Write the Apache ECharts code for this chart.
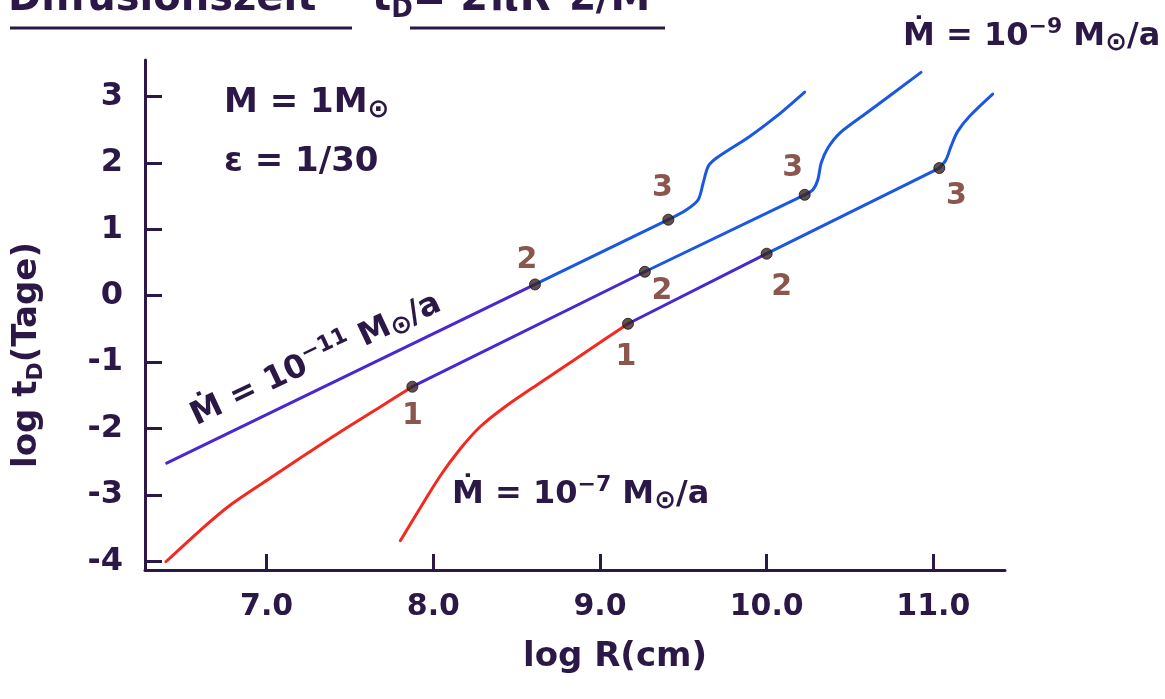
<!DOCTYPE html>
<html>
<head>
<meta charset="utf-8">
<script src="https://cdn.jsdelivr.net/npm/echarts@6/dist/echarts.min.js"></script>
<style>
  html, body { margin: 0; padding: 0; background: #ffffff; }
  #chart { width: 1165px; height: 699px; }
</style>
</head>
<body>
<div id="chart"></div>
<script>
// ---- axis ticks ----
const xTicks = [7, 8, 9, 10, 11];
const xTickLabels = ['7.0', '8.0', '9.0', '10.0', '11.0'];
const yTicks = [-4, -3, -2, -1, 0, 1, 2, 3];

// ---- Mdot = 1e-11 Msun/a ----
const m11PurpleR = [6.40, 8.61];
const m11PurpleT = [-2.52, 0.17];
const m11BlueR = [8.61, 9.41];
const m11BlueT = [0.17, 1.145];
const m11TailR = [9.41, 9.519, 9.589, 9.619, 9.649, 9.699, 9.898, 10.058, 10.228];
const m11TailT = [1.145, 1.295, 1.446, 1.697, 1.947, 2.074, 2.399, 2.70, 3.068];

// ---- Mdot = 1e-9 Msun/a ----
const m9RedR = [6.395, 6.605, 6.784, 7.024, 7.204, 7.443, 7.683, 7.874];
const m9RedT = [-4.006, -3.524, -3.148, -2.741, -2.44, -2.048, -1.672, -1.37];
const m9PurpleR = [7.874, 9.269];
const m9PurpleT = [-1.37, 0.361];
const m9BlueR = [9.269, 10.228];
const m9BlueT = [0.361, 1.52];
const m9TailR = [10.228, 10.277, 10.307, 10.327, 10.367, 10.439, 10.599, 10.926];
const m9TailT = [1.52, 1.596, 1.747, 1.998, 2.224, 2.45, 2.751, 3.363];

// ---- Mdot = 1e-7 Msun/a ----
const m7RedR = [7.802, 7.922, 8.042, 8.162, 8.281, 8.431, 8.641, 8.838, 9.042, 9.168];
const m7RedT = [-3.69, -3.193, -2.711, -2.304, -1.973, -1.672, -1.31, -0.979, -0.633, -0.422];
const m7PurpleR = [9.168, 10.0];
const m7PurpleT = [-0.422, 0.633];
const m7BlueR = [10.0, 11.036];
const m7BlueT = [0.633, 1.923];
const m7TailR = [11.036, 11.076, 11.106, 11.146, 11.216, 11.356];
const m7TailT = [1.923, 2.048, 2.249, 2.475, 2.70, 3.037];

// ---- marked points 1/2/3 ----
const pointR = [8.61, 9.41, 7.874, 9.269, 10.228, 9.168, 10.0, 11.036];
const pointT = [0.17, 1.145, -1.37, 0.361, 1.52, -0.422, 0.633, 1.923];
const pointNames = ['2', '3', '1', '2', '3', '1', '2', '3'];

// ---- styles (kept apart from data) ----
const pointLabelOffsets = [[-8, -24], [-6, -32], [0, 29], [17, 19], [-12, -27], [-2, 33], [15, 33], [17, 28]];
const RED = '#f3281f';
const PURPLE = '#4a27d0';
const BLUE = '#1a58e4';
const INK = '#2b1846';
const BROWN = '#6e2c22';
const FONT = 'DejaVu Sans';

function pairs(xs, ys) { return xs.map((x, i) => [x, ys[i]]); }
function lineSeries(name, xs, ys, color, smooth) {
  return {
    name: name, type: 'line', data: pairs(xs, ys),
    smooth: smooth ? 0.3 : false,
    showSymbol: false, symbol: 'none', silent: true,
    lineStyle: { color: color, width: 3, cap: 'round' }, z: 2
  };
}

const series = [
  lineSeries('m11 purple', m11PurpleR, m11PurpleT, PURPLE, false),
  lineSeries('m11 blue', m11BlueR, m11BlueT, BLUE, false),
  lineSeries('m11 tail', m11TailR, m11TailT, BLUE, true),
  lineSeries('m9 red', m9RedR, m9RedT, RED, true),
  lineSeries('m9 purple', m9PurpleR, m9PurpleT, PURPLE, false),
  lineSeries('m9 blue', m9BlueR, m9BlueT, BLUE, false),
  lineSeries('m9 tail', m9TailR, m9TailT, BLUE, true),
  lineSeries('m7 red', m7RedR, m7RedT, RED, true),
  lineSeries('m7 purple', m7PurpleR, m7PurpleT, PURPLE, false),
  lineSeries('m7 blue', m7BlueR, m7BlueT, BLUE, false),
  lineSeries('m7 tail', m7TailR, m7TailT, BLUE, true),
  {
    name: 'points', type: 'scatter', z: 5,
    symbol: 'circle', symbolSize: 11,
    itemStyle: { color: '#3a2420', borderColor: '#1e1210', borderWidth: 1 },
    data: pointR.map((r, i) => ({
      value: [r, pointT[i]], name: pointNames[i],
      label: { offset: pointLabelOffsets[i] }
    })),
    label: {
      show: true, position: 'inside', formatter: '{b}',
      fontFamily: FONT, fontSize: 30, fontWeight: 'bold', color: BROWN
    }
  }
];

function txt(size, extra) {
  return Object.assign({ fontFamily: FONT, fontSize: size, fontWeight: 'bold', fill: INK, color: INK }, extra || {});
}
const mdotRich = {
  a: txt(32),
  sup: txt(22, { verticalAlign: 'bottom', padding: [0, 0, 20, 0] }),
  sun: txt(26, { verticalAlign: 'top', padding: [14, 0, 0, 0] })
};

const chart = echarts.init(document.getElementById('chart'));
chart.setOption({
  backgroundColor: '#ffffff',
  animation: false,
  grid: { left: 145, right: 160, top: 60, bottom: 129, containLabel: false },
  xAxis: {
    type: 'value', min: 6.27, max: 11.43,
    name: '{a|log R(cm)}', nameLocation: 'middle', nameGap: 70,
    nameTextStyle: { padding: [0, 0, 0, 80], rich: { a: txt(34) } },
    axisLine: { show: true, onZero: false, lineStyle: { color: INK, width: 3 } },
    axisTick: { show: true, inside: true, length: 16, lineStyle: { color: INK, width: 3 }, customValues: xTicks },
    axisLabel: {
      customValues: xTicks, margin: 22, fontFamily: FONT, fontSize: 30, fontWeight: 'bold', color: INK,
      formatter: function (v) { const i = xTicks.indexOf(Math.round(v)); return i >= 0 ? xTickLabels[i] : ''; }
    },
    splitLine: { show: false }
  },
  yAxis: {
    type: 'value', min: -4.13, max: 3.55,
    name: '{a|log t}{s|D}{a|(Tage)}', nameLocation: 'middle', nameGap: 98, nameRotate: 90,
    nameTextStyle: {
      padding: [0, 80, 0, 0],
      rich: {
        a: txt(34),
        s: txt(22, { verticalAlign: 'top', padding: [18, 0, 0, 0] })
      }
    },
    axisLine: { show: true, onZero: false, lineStyle: { color: INK, width: 3 } },
    axisTick: { show: true, inside: true, length: 17, lineStyle: { color: INK, width: 3 }, customValues: yTicks },
    axisLabel: {
      customValues: yTicks, margin: 22, fontFamily: FONT, fontSize: 32, fontWeight: 'bold', color: INK,
      formatter: function (v) { return Math.round(v) < 0 ? '-' + Math.abs(Math.round(v)) : String(Math.round(v)); }
    },
    splitLine: { show: false }
  },
  graphic: [
    {
      type: 'text', left: 8, top: -25, z: 10,
      style: {
        text: '{a|Diffusionszeit}{a|    t}{s|D}{a|= 2πR}{p|2}{a|Σ/Ṁ}',
        rich: {
          a: txt(40),
          s: txt(26, { verticalAlign: 'top', padding: [22, 0, 0, 0] }),
          p: txt(26, { verticalAlign: 'bottom', padding: [0, 0, 24, 0] })
        }
      }
    },
    { type: 'line', z: 10, shape: { x1: 10, y1: 28, x2: 352, y2: 28 }, style: { stroke: INK, lineWidth: 3 } },
    { type: 'line', z: 10, shape: { x1: 410, y1: 28, x2: 665, y2: 28 }, style: { stroke: INK, lineWidth: 3 } },
    {
      type: 'text', left: 224, top: 86, z: 10,
      style: { text: '{a|M = 1M}{sun|⊙}', rich: { a: txt(34), sun: mdotRich.sun } }
    },
    {
      type: 'text', left: 224, top: 145, z: 10,
      style: { text: 'ε = 1/30', fontFamily: FONT, fontSize: 34, fontWeight: 'bold', fill: INK }
    },
    {
      type: 'text', left: 903, top: 16, z: 10,
      style: { text: '{a|Ṁ = 10}{sup|−9}{a| M}{sun|⊙}{a|/a}', rich: mdotRich }
    },
    {
      type: 'text', left: 452, top: 474, z: 10,
      style: { text: '{a|Ṁ = 10}{sup|−7}{a| M}{sun|⊙}{a|/a}', rich: mdotRich }
    },
    {
      type: 'text', x: 316, y: 360, rotation: 0.44, z: 10,
      style: {
        text: '{a|Ṁ = 10}{sup|−11}{a| M}{sun|⊙}{a|/a}', rich: mdotRich,
        align: 'center', verticalAlign: 'middle'
      }
    }
  ],
  series: series
});
</script>
</body>
</html>
